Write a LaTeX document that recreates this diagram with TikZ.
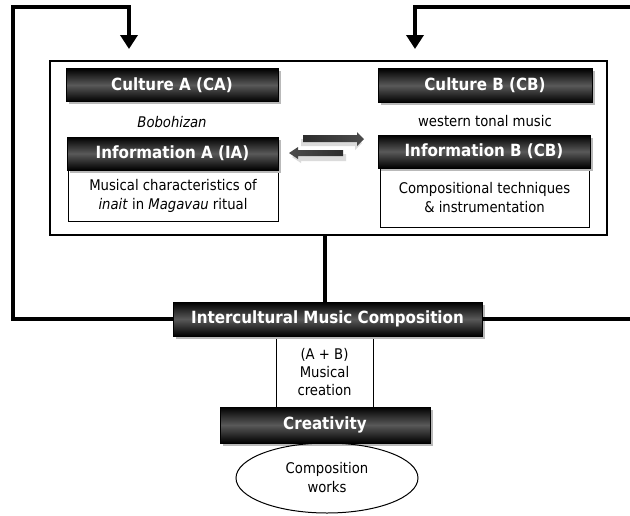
\documentclass[tikz,border=0pt]{standalone}
\usepackage{fontspec}
\IfFontExistsTF{DejaVu Sans Condensed}{\setmainfont{DejaVu Sans Condensed}\def\mysz{14.7}\def\myhz{16.8}}{\setmainfont{DejaVu Sans}\def\mysz{13.2}\def\myhz{15.2}}
\usetikzlibrary{shadows,arrows.meta,shapes.geometric}
\begin{document}
\begin{tikzpicture}[x=1pt,y=-1pt,
  hdr/.style={draw=black, line width=1pt, inner sep=0pt,
    top color=black, bottom color=black, middle color=gray!70!black,
    text=white, font=\bfseries\fontsize{\myhz}{18}\selectfont,
    drop shadow={shadow xshift=2.5pt, shadow yshift=-2.5pt, fill=gray!55, opacity=1}},
  bodybox/.style={draw=black, line width=1pt, fill=white, inner sep=0pt, align=center,
    font=\fontsize{\mysz}{19}\selectfont},
  plain/.style={inner sep=0pt, font=\fontsize{\mysz}{17}\selectfont},
  thickline/.style={line width=4pt},
  fb/.style={line width=3.5pt, -{Triangle[length=14pt,width=17pt]}}
]
\useasboundingbox (0,0) rectangle (630,515);
% big box
\node[draw=black, line width=1.2pt, minimum width=557pt, minimum height=174pt, inner sep=0pt] (big) at (328.5,148) {};
% culture A
\node[hdr, minimum width=212pt, minimum height=33pt] (ca) at (172,85) {Culture A (CA)};
\node[plain] (bob) at (172,122) {\itshape Bobohizan};
\node[bodybox, minimum width=210pt, minimum height=51pt] (iab) at (173,195.5) {Musical characteristics of\\\textit{inait} in \textit{Magavau} ritual};
\node[hdr, minimum width=211pt, minimum height=33pt] (ia) at (172.5,153.5) {Information A (IA)};
% culture B
\node[hdr, minimum width=214pt, minimum height=34pt] (cb) at (485,85.5) {Culture B (CB)};
\node[plain] (wtm) at (485,121) {western tonal music};
\node[bodybox, minimum width=209pt, minimum height=59pt] (ibb) at (484.5,197.5) {Compositional techniques\\\& instrumentation};
\node[hdr, minimum width=212pt, minimum height=33pt] (ib) at (484,151.5) {Information B (CB)};
% exchange arrows
\fill[gray!28] (301,139) -- (355,139) -- (355,136) -- (362,143) -- (355,150) -- (355,146) -- (301,146) -- cycle;
\fill[gray!28] (292,157) -- (301,151) -- (301,154) -- (346,154) -- (346,161) -- (301,161) -- (301,163) -- cycle;
\shade[left color=gray!35!black, right color=gray!60!black] (303,135) -- (357,135) -- (357,132) -- (364,139) -- (357,146) -- (357,142) -- (303,142) -- cycle;
\shade[left color=gray!60!black, right color=gray!35!black] (289,153) -- (298,147) -- (298,150) -- (343,150) -- (343,156) -- (298,156) -- (298,159) -- cycle;
% lower part
\node[bodybox, minimum width=97pt, minimum height=71pt, font=\fontsize{\mysz}{18}\selectfont] (mus) at (324.5,372) {(A + B)\\Musical\\creation};
\node[hdr, minimum width=309pt, minimum height=34pt] (imc) at (327.5,319) {Intercultural Music Composition};
\node[hdr, minimum width=210pt, minimum height=36pt] (cre) at (325,425) {Creativity};
\node[draw=black, line width=1pt, ellipse, minimum width=182pt, minimum height=70pt, inner sep=0pt, align=center, font=\fontsize{\mysz}{19}\selectfont] (cw) at (327,478) {Composition\\works};
% connectors
\draw[thickline] (big.south -| 325,0) -- (imc.north -| 325,0);
\coordinate (lc) at (13,7);
\coordinate (rc) at (633,7);
\coordinate (re) at (633,319);
\draw[fb] (imc.west) -- (13,319) -- (lc) -- (129,7) -- (129,49);
\draw[fb] (rc) -- (415,7) -- (415,49);
\draw[thickline] (imc.east) -- (re);
\end{tikzpicture}
\end{document}
